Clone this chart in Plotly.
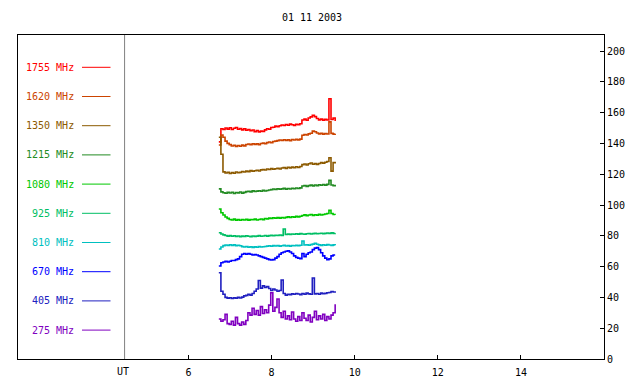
import plotly.graph_objects as go

# ---- data ----
TIME_UT = [6.73, 6.78, 6.83, 6.88, 6.93, 6.98, 7.03, 7.08, 7.13, 7.18,
           7.23, 7.28, 7.33, 7.38, 7.43, 7.48, 7.53, 7.58, 7.63, 7.68,
           7.73, 7.78, 7.83, 7.88, 7.93, 7.98, 8.03, 8.08, 8.13, 8.18,
           8.23, 8.28, 8.33, 8.38, 8.43, 8.48, 8.53, 8.58, 8.63, 8.68,
           8.73, 8.78, 8.83, 8.88, 8.93, 8.98, 9.03, 9.08, 9.13, 9.18,
           9.23, 9.28, 9.33, 9.38, 9.43, 9.48, 9.53]

FREQ_LABELS = ["1755 MHz", "1620 MHz", "1350 MHz", "1215 MHz", "1080 MHz",
               "925 MHz", "810 MHz", "670 MHz", "405 MHz", "275 MHz"]

F1755 = [141, 149.5, 149, 150, 149.3, 150.2, 149, 149.8, 150.3, 149.2, 149.6,
         148.8, 149.5, 148.5, 149, 148.2, 148.7,
         147.6, 148.3, 147.5, 148, 147.8,
         148.8, 149.5, 149.2, 150.3,
         150.5, 151.2, 150.8, 151.5,
         152, 151.6, 152.3, 151.8, 152.5, 152.1, 151.7, 152.4, 152.2, 152.8,
         155.2, 155.8, 155, 156.5, 157.2, 158.2, 157.4, 156.2, 155.3, 155.8, 155.1, 155.6, 155.2,
         169,
         155.5, 156.5, 154.6]

F1620 = [139, 145.5, 144, 141.5, 140, 139.2,
         138.3, 138.8, 138.1, 138.6, 138.2, 138.9, 138.4,
         139.3, 139.6, 139.1, 139.8, 139.4, 139.7, 139.2, 139.9, 140.2, 139.8,
         140.5, 140.9, 140.4, 141.2, 141.5,
         141.8, 142.2, 141.9, 142.4, 142, 142.3, 141.8, 142.5, 142.2, 142.6, 142.3, 142.8,
         145.3, 145.8, 145.5, 146.2, 146.6,
         148, 147.6, 146.8,
         146.2, 146.5, 146, 146.4, 146.1,
         154,
         146.5, 146, 146.2]

F1350 = [144, 133, 121.5,
         120.8, 121.3, 120.5, 121, 120.6, 121.4, 120.9, 121.2,
         121.8, 121.4, 122, 121.7, 122.3, 121.9, 122.2, 122.6, 122.1, 122.8,
         123, 122.7, 123.4, 123.1, 123.6, 123.2, 123.5, 123.9, 123.4,
         124, 124.3, 123.8, 124.5, 124.1, 124.6, 124.2, 124.8, 124.4, 125,
         126.2, 126.6, 126, 126.8, 127.3, 126.5, 126.9, 126.4, 127,
         127.5, 127.2, 127.8, 128.3,
         130.7,
         122,
         127.5, 127]

F1215 = [110.5, 108.5,
         108, 107.6, 108.2, 107.8, 108.3, 107.5, 108.1, 107.9, 108.4, 107.7, 108.2,
         108.7, 108.9, 108.5, 109.2, 108.8, 109, 109.3, 108.9, 109.5, 109.1, 109.4, 109.7,
         110, 110.4, 110.1, 110.6, 110.2, 110.5, 110.8, 110.3, 110.7, 110.4, 110.9, 110.6, 111, 110.7, 111.1,
         112.3, 112.7, 112.1, 112.6, 112.9, 112.4, 113, 112.6, 113.2, 112.8, 113.3, 112.9, 113.4,
         116,
         113, 112.6, 113.1]

F1080 = [97.4, 95, 93.5, 92.2, 91.3,
         90.6, 90.3, 90.8, 90.2, 90.5, 90.1, 90.6, 90.3, 90.7, 90.2, 90.5, 90.4, 90.8, 90.3, 90.6, 90.9, 90.5,
         91.2, 91, 91.5, 91.3, 91.7, 91.4, 91.8, 91.5, 91.9, 91.6,
         92, 92.3, 91.9, 92.4, 92.1, 92.6, 92.3, 92.7,
         93.2, 93.6, 93.1, 93.5, 93.8, 93.3, 93.7, 93.4, 93.9, 93.5, 93.8, 94.2, 94.5,
         96.5,
         94.5, 93.8, 93.6]

F925 = [82, 81.2, 80.6,
        80.2, 79.8, 80.1, 79.7, 80, 79.6, 79.9, 79.5, 79.8, 79.6, 80, 79.7, 79.5, 79.9,
        79.6, 79.8, 80.1, 79.7, 79.9, 80.2, 79.8, 80.1, 80.3, 80, 80.4, 80.2, 80.5, 80.3,
        84.4,
        80.8, 81.1, 80.9, 81.2, 81, 81.3, 81.1, 81.4, 81.2, 81, 81.3, 81.5, 81.2, 81.4,
        81.6, 81.3, 81.5, 81.7, 81.4, 81.6, 81.8, 81.5, 81.9, 81.6, 81.7]

F810 = [71.4, 72.7,
        73.6, 74, 73.7, 74.2, 73.8, 74.1, 73.6, 73.9, 73.5,
        73, 72.7, 73.1, 72.6, 72.9, 72.5, 72.8, 72.6, 73, 72.7, 72.9, 73.1,
        73.3, 73.5, 73.2, 73.6, 73.4, 73.7, 73.3, 73.5, 73.8, 73.4, 73.6, 73.3, 73.7, 73.5, 73.8, 73.6, 73.9,
        76.6,
        74, 74.2, 73.9, 74.3, 74.6,
        75.2,
        74.5, 74.1, 73.8, 74.2, 73.9, 74.3, 74, 73.8, 74.1, 73.9]

F670 = [60.4, 62.5,
        63, 63.5, 63, 63.5, 64,
        64, 64.5, 65,
        66.5,
        68, 68.5, 68, 68.5, 68, 67.5,
        67.8, 67.5, 67,
        66.5, 66, 65.5,
        65, 64.5, 64.3,
        64.5, 65.5, 66.5,
        68, 69, 69.5,
        70, 70.2,
        69.5, 68.5,
        67, 66, 65.5,
        65.2,
        68.5, 66.5, 68, 69, 69.5,
        71, 72, 72.3, 71, 69, 67, 65.5, 64.5, 65, 67, 67.5, 67.5]

F405 = [56, 44, 42,
        40, 39.5, 39.8, 39.3, 39.7, 39.5, 40, 39.6, 40.2,
        41, 41.3, 42, 41.5, 42.5,
        44, 45.5,
        51,
        46, 47.5, 46.5, 47, 45.8, 44.5, 45.5, 44.8, 44, 44.5,
        51.3,
        42.5, 41.5, 42, 41.8, 42.3, 42, 42.5, 42.2, 41.8, 42.5, 42, 42.8, 42.3, 42,
        52.6,
        42.3, 42.5, 42, 42.8, 42.4, 42.6, 43, 43.2,
        43.8, 43.5, 44]

F275 = [26, 24.5, 25.5, 29, 23, 22.5, 24.5, 22, 27, 23,
        22, 24, 22.5, 25, 30, 28.5, 33, 29, 31.5, 28.5,
        34, 29.5, 32, 30, 35, 43, 31, 33.5, 39, 30,
        27, 31, 26, 28, 25.5, 30.5, 26, 24.5, 27.5, 25,
        30, 26.5, 25, 28.5, 24, 27, 31, 25.5, 28, 26,
        29, 25, 27.5, 26, 28.5, 30, 35.5]

SERIES = [F1755, F1620, F1350, F1215, F1080, F925, F810, F670, F405, F275]
COLORS = ["#ff0000", "#cc4400", "#8c5a00", "#228b22", "#00c800",
          "#00be64", "#00c0c0", "#0000ff", "#2020c0", "#8000c0"]

X_TICKS = [6, 8, 10, 12, 14]
Y_TICKS = [0, 20, 40, 60, 80, 100, 120, 140, 160, 180, 200]
TITLE = "01 11 2003"

# ---- layout geometry (pixels) ----
W, H = 640, 384
L, R, T, B = 18, 604, 35, 359
FONT = dict(family="DejaVu Sans Mono", size=10, color="black")
UT_X = 4.462

fig = go.Figure()
for vals, col in zip(SERIES, COLORS):
    fig.add_trace(go.Scatter(x=TIME_UT, y=vals, mode="lines",
                             line=dict(color=col, width=1.6, shape="hv"),
                             showlegend=False, hoverinfo="skip"))

def px_x(p):
    return (p - L) / (R - L)

def px_y(p):
    return (B - p) / (B - T)

shapes = [dict(type="line", xref="x", yref="paper", x0=UT_X, x1=UT_X, y0=0, y1=1,
               line=dict(color="#808080", width=1))]
annotations = []
for k, (lab, col) in enumerate(zip(FREQ_LABELS, COLORS)):
    yp = 67.3 + 29.2 * k
    annotations.append(dict(xref="paper", yref="paper", x=px_x(75.5), y=px_y(yp),
                            xanchor="right", yanchor="middle", showarrow=False,
                            text=lab, font=dict(family=FONT["family"], size=10, color=col)))
    shapes.append(dict(type="line", xref="paper", yref="paper",
                       x0=px_x(82), x1=px_x(110.5), y0=px_y(yp), y1=px_y(yp),
                       line=dict(color=col, width=1)))
annotations.append(dict(xref="x", yref="paper", x=UT_X - 0.04, y=0, yanchor="top",
                        xanchor="center", yshift=-5, showarrow=False, text="UT", font=FONT))

fig.update_layout(
    width=W, height=H,
    margin=dict(l=L, r=W - R, t=T, b=H - B, autoexpand=False),
    paper_bgcolor="white", plot_bgcolor="white",
    title=dict(text=TITLE, x=312 / W, y=1 - 17 / H, xref="container", yref="container",
               xanchor="center", yanchor="middle", font=FONT),
    xaxis=dict(range=[1.897, 16], tickvals=X_TICKS, ticks="inside", ticklen=4,
               tickcolor="black", showline=True, mirror=True, linecolor="black",
               linewidth=1, showgrid=False, zeroline=False, tickfont=FONT,
               ticklabelstandoff=4),
    yaxis=dict(range=[0, 210.4], side="right", tickvals=Y_TICKS, ticks="inside",
               ticklen=4, tickcolor="black", showline=True, mirror=True,
               linecolor="black", linewidth=1, showgrid=False, zeroline=False,
               tickfont=FONT),
    shapes=shapes, annotations=annotations,
)

fig.write_html("out.html", config={"displayModeBar": False},
               post_script="document.body.style.margin='0';document.body.style.overflow='hidden';")
